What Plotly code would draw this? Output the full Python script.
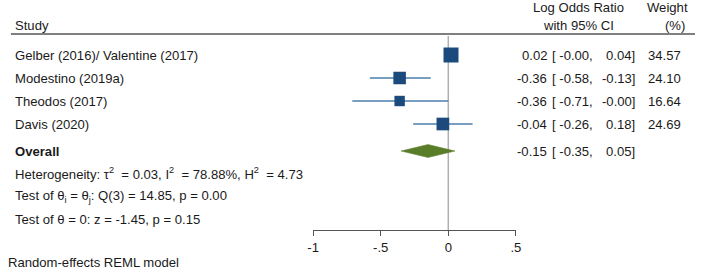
import plotly.graph_objects as go

# ---------------- data ----------------
studies = ["Gelber (2016)/ Valentine (2017)", "Modestino (2019a)", "Theodos (2017)", "Davis (2020)"]
estimates = [0.02, -0.36, -0.36, -0.04]
ci_low = [-0.00, -0.58, -0.71, -0.26]
ci_high = [0.04, -0.13, -0.00, 0.18]
weights = [34.57, 24.10, 16.64, 24.69]

overall_est = -0.15
overall_low = -0.35
overall_high = 0.05

NB = "\u00a0"
stats_lines = [
    f"Heterogeneity: τ<sup>2</sup>{NB} = 0.03, I<sup>2</sup>{NB} = 78.88%, H<sup>2</sup>{NB} = 4.73",
    "Test of θ<sub>i</sub> = θ<sub>j</sub>: Q(3) = 14.85, p = 0.00",
    "Test of θ = 0: z = -1.45, p = 0.15",
]
tick_vals = [-1, -0.5, 0, 0.5]
tick_text = ["-1", "-.5", "0", ".5"]
footnote = "Random-effects REML model"

# ---------------- layout constants (pixels) ----------------
W, H = 702, 274
study_rows = [55, 78, 101, 124]
overall_row = 151
stats_rows = [173, 196, 219]
axis_row = 230
header_line_row = 34
FONT = "Liberation Sans, Arial, sans-serif"
FS = 13.1
TXT = "#1a1a1a"
SQ_COLOR = "#1c4a7c"
CI_COLOR = "#4d7fab"
DIAMOND_COLOR = "#5a7d2a"

def px(x):
    return x / W

fig = go.Figure()

# CI lines
for y, lo, hi in zip(study_rows, ci_low, ci_high):
    fig.add_trace(go.Scatter(x=[lo, hi], y=[y, y], mode="lines",
                             line=dict(color=CI_COLOR, width=1.3),
                             hoverinfo="skip", showlegend=False))

# weight squares (area proportional to weight)
sizes = [2.55 * (w ** 0.5) for w in weights]
fig.add_trace(go.Scatter(x=estimates, y=study_rows, mode="markers",
                         marker=dict(symbol="square", size=sizes, color=SQ_COLOR,
                                     opacity=1, line=dict(width=0)),
                         showlegend=False, cliponaxis=False))

# overall diamond
dh = 6.5
fig.add_trace(go.Scatter(
    x=[overall_low, overall_est, overall_high, overall_est, overall_low],
    y=[overall_row, overall_row - dh, overall_row, overall_row + dh, overall_row],
    mode="lines", fill="toself", fillcolor=DIAMOND_COLOR,
    line=dict(color=DIAMOND_COLOR, width=0.5), showlegend=False, hoverinfo="skip"))

# vertical line at 0 and header rule
fig.add_shape(type="line", x0=0, x1=0, y0=36, y1=axis_row, xref="x", yref="y",
              line=dict(color="#b0b0b0", width=1.5), layer="below")
fig.add_shape(type="line", x0=px(5), x1=px(700), y0=header_line_row, y1=header_line_row,
              xref="paper", yref="y", line=dict(color="#555555", width=1.5))

def ann(text, x, y, anchor="left", bold=False):
    fig.add_annotation(text=f"<b>{text}</b>" if bold else text, x=px(x), y=y,
                       xref="paper", yref="y", xanchor=anchor, yanchor="middle",
                       showarrow=False, font=dict(family=FONT, size=FS, color=TXT))

# headers
ann("Study", 7, 25)
ann("Log Odds Ratio", 582, 7, "center")
ann("with 95% CI", 582, 25, "center")
ann("Weight", 672, 7, "center")
ann("(%)", 680, 25, "center")

# study rows
for name, y, e, lo, hi, w in zip(studies, study_rows, estimates, ci_low, ci_high, weights):
    ann(name, 7, y)
    ann(f"{e:.2f}", 552, y, "right")
    ann(f"[ {lo:.2f},", 598, y, "right")
    ann(f"{hi:.2f}]", 641, y, "right")
    ann(f"{w:.2f}", 688, y, "right")

# overall
ann("Overall", 7, overall_row, bold=True)
ann(f"{overall_est:.2f}", 552, overall_row, "right")
ann(f"[ {overall_low:.2f},", 598, overall_row, "right")
ann(f"{overall_high:.2f}]", 641, overall_row, "right")

for t, y in zip(stats_lines, stats_rows):
    ann(t, 7, y)

ann(footnote, 0, 262)

fig.update_layout(
    width=W, height=H, margin=dict(l=0, r=0, t=0, b=0),
    paper_bgcolor="white", plot_bgcolor="white",
    xaxis=dict(domain=[px(312), px(518)], range=[-1, 0.5], anchor="free",
               position=(H - axis_row) / H, showgrid=False, zeroline=False,
               showline=True, linecolor="#555555", linewidth=1.2,
               ticks="outside", ticklen=5, tickcolor="#555555", tickwidth=1.2,
               tickvals=tick_vals, ticktext=tick_text,
               tickfont=dict(family=FONT, size=FS, color=TXT)),
    yaxis=dict(domain=[0, 1], range=[H, 0], visible=False),
)

fig.write_html("out.html", config={"displayModeBar": False},
               post_script="document.body.style.margin='0';")
